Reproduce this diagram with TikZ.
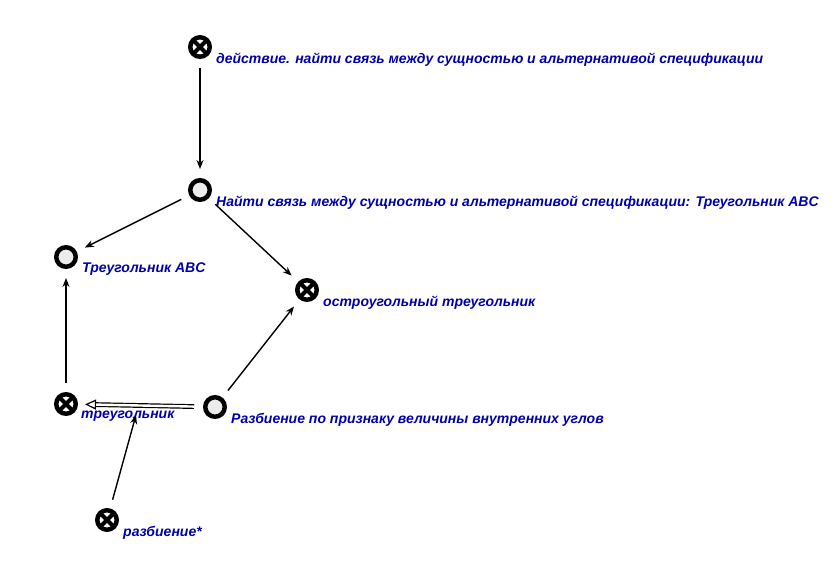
\documentclass[tikz,border=0pt]{standalone}
\usepackage{fontspec}
\setmainfont{Liberation Sans}
\usetikzlibrary{arrows.meta}
\definecolor{lbl}{RGB}{0,0,170}
\definecolor{ringfill}{RGB}{236,236,236}
\begin{document}
\begin{tikzpicture}[x=1pt,y=-1pt,
  ringnode/.style={circle,draw=black,fill=ringfill,line width=4.5pt,minimum size=19.5pt,inner sep=0pt},
  crossnode/.style={circle,draw=black,fill=white,line width=4.5pt,minimum size=19.5pt,inner sep=0pt,
    path picture={\draw[line width=4pt,black]
      (path picture bounding box.north west) -- (path picture bounding box.south east)
      (path picture bounding box.north east) -- (path picture bounding box.south west);}},
  lab/.style={anchor=west,text=lbl,font=\bfseries\itshape\fontsize{14}{16}\selectfont,inner sep=0pt},
  conn/.style={line width=1.4pt,-{Stealth[length=9pt,width=7pt]},shorten <=9pt,shorten >=9pt},
  dconn/.style={double=white,double distance=2.4pt,line width=1.2pt,-{Triangle[open,length=11pt,width=10pt]},shorten <=9pt,shorten >=7pt}]
\useasboundingbox[fill=white] (0,0) rectangle (838,561);
\node[crossnode] (n1) at (200,47) {};
\node[ringnode] (n2) at (200,190) {};
\node[ringnode] (n3) at (66,257) {};
\node[crossnode] (n4) at (307,290) {};
\node[crossnode] (n5) at (66,404) {};
\node[ringnode] (n6) at (215,407) {};
\node[crossnode] (n7) at (107,520) {};
\node[lab] (l1) at (216,59.5) {действие. найти связь между сущностью и альтернативой спецификации};
\node[lab] (l2) at (216,202.5) {Найти связь между сущностью и альтернативой спецификации: Треугольник ABC};
\node[lab] (l3) at (82,269.5) {Треугольник ABC};
\node[lab] (l4) at (323,302.5) {остроугольный треугольник};
\node[lab] (l5) at (81,416.5) {треугольник};
\node[lab] (l6) at (231,419.5) {Разбиение по признаку величины внутренних углов};
\node[lab] (l7) at (123,532.5) {разбиение*};
\coordinate (t5) at (136,415);
\draw[conn] (n1) -- (n2);
\draw[conn] (n2) -- (n3);
\draw[conn] (n2) -- (n4);
\draw[conn] (n6) -- (n4);
\draw[conn] (n5) -- (n3);
\draw[dconn] (n6) -- (n5);
\draw[conn,shorten >=0pt] (n7) -- (t5);
\end{tikzpicture}
\end{document}
